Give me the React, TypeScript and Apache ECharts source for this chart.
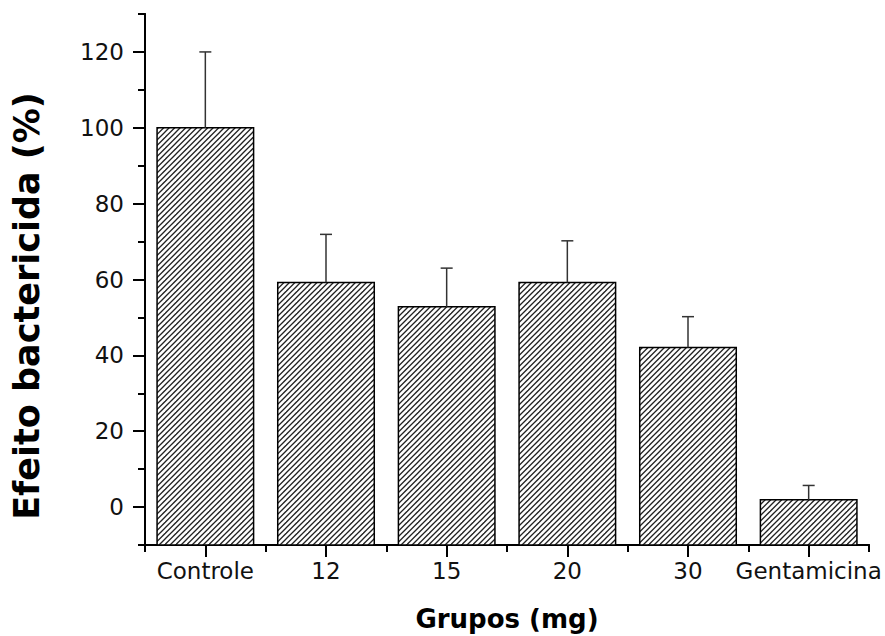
import React, { useEffect, useRef } from "react";
import * as echarts from "echarts";

const categories = ["Controle", "12", "15", "20", "30", "Gentamicina"];
const values = [100, 59.2, 52.8, 59.2, 42.1, 1.9];
const errors = [20, 12.7, 10.2, 11, 8.1, 3.8];
const majorTicks = [0, 20, 40, 60, 80, 100, 120];
const minorTicks = [-10, 10, 30, 50, 70, 90, 110, 130];
const yMin = -10;
const yMax = 130;
const xTitle = "Grupos (mg)";
const yTitle = "Efeito bactericida (%)";

function makeHatch(): HTMLCanvasElement {
  const s = 11;
  const c = document.createElement("canvas");
  c.width = s;
  c.height = s;
  const ctx = c.getContext("2d")!;
  ctx.fillStyle = "#ffffff";
  ctx.fillRect(0, 0, s, s);
  ctx.strokeStyle = "#222222";
  ctx.lineWidth = 1.3;
  const offs = [0, 5.5, 11, 16.5, 22];
  for (const k of offs) {
    ctx.beginPath();
    ctx.moveTo(k + 2, -2);
    ctx.lineTo(-2, k + 2);
    ctx.stroke();
  }
  return c;
}

export default function App() {
  const ref = useRef<HTMLDivElement>(null);
  useEffect(() => {
    if (!ref.current) return;
    const chart = echarts.init(ref.current, null, { renderer: "svg" });
    const font = "DejaVu Sans";
    const hatch = makeHatch();
    const barData = values.map((v, i) => [i, v]);
    const errData = values.map((v, i) => [i, v, errors[i]]);
    chart.setOption({
      animation: false,
      backgroundColor: "#ffffff",
      grid: { left: 145, right: 16, top: 14, bottom: 91, containLabel: false },
      xAxis: [
        {
          type: "category",
          data: categories,
          position: "bottom",
          axisLine: { show: true, onZero: false, lineStyle: { color: "#000", width: 2 } },
          axisTick: { show: true, alignWithLabel: true, length: 12, lineStyle: { color: "#000", width: 2 } },
          axisLabel: { color: "#111", fontFamily: font, fontSize: 23, margin: 14, interval: 0 },
          splitLine: { show: false },
        },
        {
          type: "category",
          data: categories,
          position: "bottom",
          axisLine: { show: true, onZero: false, lineStyle: { color: "#000", width: 2 } },
          axisTick: { show: true, length: 7, interval: 0, lineStyle: { color: "#000", width: 2 } },
          axisLabel: { show: false },
          splitLine: { show: false },
        },
      ],
      yAxis: [
        {
          type: "value",
          min: yMin,
          max: yMax,
          interval: 10,
          position: "left",
          axisLine: { show: true, lineStyle: { color: "#000", width: 2 } },
          axisTick: { show: true, length: 12, customValues: majorTicks, lineStyle: { color: "#000", width: 2 } },
          axisLabel: { color: "#111", fontFamily: font, fontSize: 23, margin: 21, customValues: majorTicks },
          splitLine: { show: false },
        },
        {
          type: "value",
          min: yMin,
          max: yMax,
          interval: 10,
          position: "left",
          axisLine: { show: true, lineStyle: { color: "#000", width: 2 } },
          axisTick: { show: true, length: 7, customValues: minorTicks, lineStyle: { color: "#000", width: 2 } },
          axisLabel: { show: false },
          splitLine: { show: false },
        },
      ],
      series: [
        {
          type: "custom",
          xAxisIndex: 0,
          yAxisIndex: 0,
          data: barData,
          z: 2,
          renderItem: (params: any, api: any) => {
            const i = api.value(0);
            const v = api.value(1);
            const top = api.coord([i, v]);
            const bottom = api.coord([i, yMin]);
            const bandW = api.size([1, 0])[0];
            const w = bandW * 0.8;
            return {
              type: "rect",
              shape: { x: top[0] - w / 2, y: top[1], width: w, height: bottom[1] - top[1] },
              style: {
                fill: { image: hatch, repeat: "repeat" },
                stroke: "#000",
                lineWidth: 1.5,
              },
            };
          },
        },
        {
          type: "custom",
          xAxisIndex: 0,
          yAxisIndex: 0,
          data: errData,
          z: 3,
          renderItem: (params: any, api: any) => {
            const i = api.value(0);
            const v = api.value(1);
            const e = api.value(2);
            const base = api.coord([i, v]);
            const top = api.coord([i, v + e]);
            const style = { stroke: "#333", lineWidth: 1.5 };
            return {
              type: "group",
              children: [
                { type: "line", shape: { x1: base[0], y1: base[1], x2: top[0], y2: top[1] }, style },
                { type: "line", shape: { x1: top[0] - 6, y1: top[1], x2: top[0] + 6, y2: top[1] }, style },
              ],
            };
          },
        },
      ],
      graphic: [
        {
          type: "text",
          x: 27,
          y: 306,
          rotation: Math.PI / 2,
          style: {
            text: yTitle,
            fontFamily: font,
            fontWeight: "bold",
            fontSize: 35,
            fill: "#000",
            align: "center",
            verticalAlign: "middle",
          },
        },
        {
          type: "text",
          x: 507,
          y: 619,
          style: {
            text: xTitle,
            fontFamily: font,
            fontWeight: "bold",
            fontSize: 26,
            fill: "#000",
            align: "center",
            verticalAlign: "middle",
          },
        },
      ],
    });
    return () => chart.dispose();
  }, []);
  return <div ref={ref} style={{ position: "absolute", left: 0, top: 0, width: 885, height: 636 }} />;
}
